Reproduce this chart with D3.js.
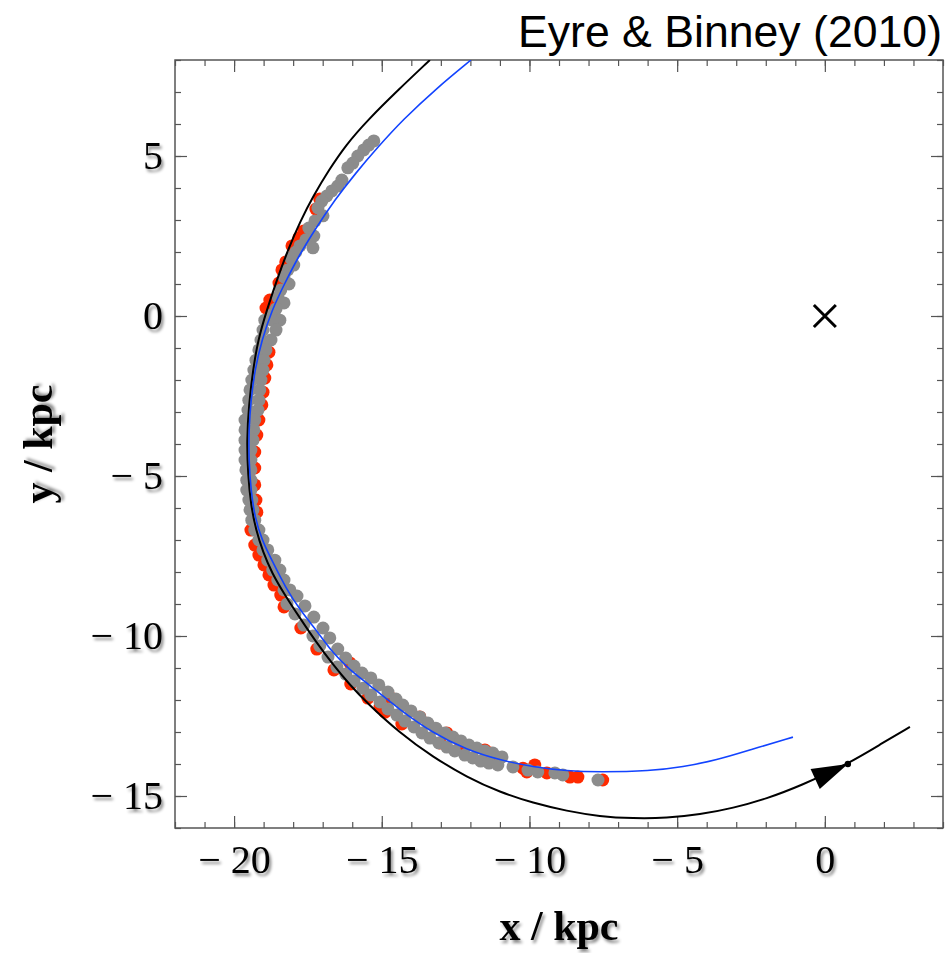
<!DOCTYPE html>
<html>
<head>
  <meta charset="utf-8">
  <title>Eyre &amp; Binney (2010)</title>
  <script src="https://d3js.org/d3.v7.min.js"></script>
  <style>
    body { margin: 0; background: #fff; }
    .tick line { stroke: #555; stroke-width: 1.2; }
    .tick text {
      font-family: "Liberation Serif", "Times New Roman", serif;
      font-size: 40px;
      fill: #000;
    }
  </style>
</head>
<body>
  <div id="chart"></div>

  <script>
    // ticks
    const xMajor = [-20, -15, -10, -5, 0];
    const yMajor = [-15, -10, -5, 0, 5];
    const xMinor = d3.range(-22, 5);
    const yMinor = d3.range(-16, 9);

    // orbit of the progenitor (black)
    const orbit = [
      [-13.37, 8.00], [-14.45, 7.06], [-15.47, 6.13], [-16.22, 5.34], [-16.79, 4.56],
      [-17.30, 3.78], [-17.77, 2.94], [-18.18, 2.06], [-18.55, 1.13], [-18.89, 0.19],
      [-19.19, -0.75], [-19.36, -1.69], [-19.50, -2.78], [-19.57, -3.88], [-19.53, -4.97],
      [-19.43, -5.91], [-19.26, -6.69], [-19.02, -7.38], [-18.72, -8.03], [-18.28, -8.72],
      [-17.77, -9.44], [-17.20, -10.22], [-16.66, -10.88], [-16.08, -11.53], [-15.50, -12.09],
      [-14.39, -13.03], [-13.27, -13.78], [-12.12, -14.41], [-11.00, -14.88], [-9.88, -15.22],
      [-8.73, -15.47], [-7.62, -15.64], [-6.50, -15.70], [-5.35, -15.69], [-4.23, -15.58],
      [-3.11, -15.38], [-1.96, -15.08], [-0.85, -14.69], [0.78, -14.00], [1.96, -13.34],
      [2.88, -12.84]
    ];

    // model track (blue)
    const track = [
      [-11.98, 8.00], [-13.13, 7.13], [-14.29, 6.13], [-15.13, 5.28], [-15.88, 4.47],
      [-16.59, 3.63], [-17.23, 2.75], [-17.81, 1.88], [-18.28, 1.03], [-18.72, 0.19],
      [-19.06, -0.75], [-19.30, -1.69], [-19.43, -2.63], [-19.50, -3.56], [-19.50, -4.50],
      [-19.43, -5.44], [-19.30, -6.28], [-19.06, -7.00], [-18.69, -7.69], [-18.25, -8.50],
      [-17.77, -9.19], [-17.16, -9.88], [-16.66, -10.53], [-16.08, -11.06], [-15.50, -11.47],
      [-14.39, -12.31], [-13.27, -13.03], [-12.12, -13.56], [-11.00, -13.88], [-9.88, -14.09],
      [-8.73, -14.22], [-7.62, -14.25], [-5.92, -14.22], [-4.81, -14.09], [-3.66, -13.88],
      [-2.54, -13.56], [-1.08, -13.16]
    ];

    // stars, red layer (drawn under the gray ones)
    const redStars = [
      [-17.10, 3.66], [-17.23, 3.34], [-17.64, 2.66], [-17.81, 2.44], [-18.04, 2.19],
      [-18.25, 1.69], [-18.38, 1.44], [-18.48, 1.03], [-18.79, 0.50], [-18.92, 0.25],
      [-18.82, -1.13], [-18.89, -1.53], [-18.96, -1.94], [-19.02, -2.38], [-19.06, -2.78],
      [-19.16, -3.25], [-19.23, -3.72], [-19.30, -4.25], [-19.30, -4.75], [-19.30, -5.28],
      [-19.26, -5.75], [-19.23, -6.13], [-19.43, -6.69], [-19.30, -7.16], [-19.16, -7.47],
      [-18.99, -7.78], [-18.82, -8.09], [-18.65, -8.41], [-18.42, -8.72], [-18.31, -9.09],
      [-17.74, -9.75], [-17.20, -10.41], [-16.62, -11.06], [-16.05, -11.50], [-15.47, -11.94],
      [-14.89, -12.38], [-14.32, -12.75], [-16.08, -10.84], [-14.73, -11.91], [-15.06, -12.22],
      [-13.71, -12.53], [-12.80, -13.03], [-13.03, -13.34], [-12.36, -13.50], [-11.51, -13.56],
      [-11.34, -13.66], [-11.10, -13.94], [-10.22, -14.13], [-9.82, -14.03], [-10.09, -14.25],
      [-9.41, -14.28], [-8.63, -14.41], [-8.36, -14.41], [-7.52, -14.50]
    ];

    // stars, gray layer
    const grayStars = [
      // upper arm, sparse clumps
      [-15.27, 5.47], [-15.44, 5.34], [-15.61, 5.19], [-15.81, 5.00], [-15.98, 4.78],
      [-16.15, 4.63], [-16.35, 4.25], [-16.49, 4.06], [-16.69, 3.91], [-16.86, 3.75],
      [-17.03, 3.59], [-17.16, 3.38], [-16.99, 3.13], [-17.26, 2.97], [-17.47, 2.75],
      [-17.30, 2.50], [-17.57, 2.38], [-17.77, 2.19], [-17.33, 2.13], [-17.91, 2.00],
      [-18.08, 1.81], [-17.98, 1.59], [-18.18, 1.44], [-18.31, 1.22], [-18.14, 1.00],
      [-18.42, 0.81], [-18.52, 0.59], [-18.31, 0.41], [-18.58, 0.22], [-18.75, 0.03],
      // left side, dense band
      [-18.96, -0.13], [-18.45, -0.13], [-18.72, -0.13],
      [-19.02, -0.44], [-18.58, -0.44], [-19.09, -0.75], [-18.75, -0.75],
      [-19.16, -1.06], [-18.92, -1.06], [-19.26, -1.38], [-18.99, -1.38],
      [-19.33, -1.69], [-19.02, -1.69], [-19.40, -2.00], [-19.09, -2.00],
      [-19.46, -2.31], [-19.13, -2.31], [-19.50, -2.63], [-19.16, -2.63],
      [-19.53, -2.94], [-19.19, -2.94], [-19.63, -3.25], [-19.30, -3.25],
      [-19.63, -3.56], [-19.33, -3.56], [-19.63, -3.88], [-19.36, -3.88],
      [-19.63, -4.19], [-19.43, -4.19], [-19.63, -4.50], [-19.43, -4.50],
      [-19.60, -4.81], [-19.43, -4.81], [-19.57, -5.13], [-19.43, -5.13],
      [-19.57, -5.44], [-19.43, -5.44], [-19.50, -5.75], [-19.40, -5.75],
      [-19.46, -6.06], [-19.36, -6.06], [-19.40, -6.38], [-19.30, -6.38],
      [-19.30, -6.69], [-19.16, -6.69], [-19.16, -7.00], [-19.02, -7.00],
      [-19.02, -7.31], [-18.86, -7.31], [-18.86, -7.63], [-18.62, -7.63],
      [-18.69, -7.94], [-18.45, -7.94], [-18.52, -8.25], [-18.31, -8.25],
      [-18.31, -8.56], [-18.11, -8.56],
      // lower arm
      [-18.21, -9.00], [-17.87, -8.75], [-17.94, -9.31], [-17.60, -9.06],
      [-17.64, -9.66], [-17.30, -9.41], [-17.33, -10.00], [-16.99, -9.75],
      [-17.10, -10.31], [-16.76, -10.06], [-16.82, -10.66], [-16.49, -10.41],
      [-16.52, -10.97], [-16.22, -10.69], [-16.22, -11.19], [-15.94, -10.94],
      [-15.94, -11.41], [-15.67, -11.16], [-15.64, -11.63], [-15.37, -11.31],
      [-15.37, -11.84], [-15.10, -11.53], [-15.06, -12.06], [-14.79, -11.75],
      [-14.79, -12.28], [-14.52, -11.97], [-14.49, -12.47], [-14.29, -12.16],
      [-14.22, -12.66], [-14.01, -12.34], [-13.91, -12.84], [-13.71, -12.53],
      [-13.64, -13.03], [-13.44, -12.72], [-13.37, -13.19], [-13.17, -12.88],
      [-13.07, -13.34], [-12.86, -13.03], [-12.80, -13.47], [-12.59, -13.16],
      [-12.53, -13.59], [-12.32, -13.28], [-12.19, -13.72], [-12.05, -13.41],
      [-11.92, -13.81], [-11.78, -13.50], [-11.65, -13.91], [-11.51, -13.59],
      [-11.37, -13.97], [-11.24, -13.66], [-11.07, -14.03], [-10.93, -13.78],
      [-10.56, -14.09], [-10.05, -14.19], [-9.72, -14.25], [-9.14, -14.28],
      [-8.87, -14.34], [-7.68, -14.50]
    ];

    const arrowIndex = 38;      // orbit point carrying the arrow head
    const centre = [0, 0];      // Galactic centre marker

    const W = 948, H = 953;
    const margin = { top: 60, left: 175 };
    const plotW = 768, plotH = 768;

    const x = d3.scaleLinear().domain([-22, 4]).range([margin.left, margin.left + plotW]);
    const y = d3.scaleLinear().domain([-16, 8]).range([margin.top + plotH, margin.top]);

    const svg = d3.select("#chart").append("svg")
      .attr("width", W)
      .attr("height", H);

    const defs = svg.append("defs");
    defs.append("clipPath").attr("id", "plot")
      .append("rect")
      .attr("x", margin.left).attr("y", margin.top)
      .attr("width", plotW).attr("height", plotH);
    defs.append("filter").attr("id", "shadow")
      .attr("x", "-20%").attr("y", "-20%").attr("width", "140%").attr("height", "140%")
      .append("feDropShadow")
      .attr("dx", 2).attr("dy", 3)
      .attr("stdDeviation", 1.6)
      .attr("flood-color", "#000")
      .attr("flood-opacity", 0.45);

    const fmt = d => d < 0 ? "\u2212 " + Math.abs(d) : String(d);

    // minor ticks, all four sides
    const bottom = margin.top + plotH, right = margin.left + plotW;
    svg.append("g").attr("transform", `translate(0,${bottom})`)
      .call(d3.axisBottom(x).tickValues(xMinor).tickSize(-6).tickFormat(""));
    svg.append("g").attr("transform", `translate(0,${margin.top})`)
      .call(d3.axisTop(x).tickValues(xMinor).tickSize(-6).tickFormat(""));
    svg.append("g").attr("transform", `translate(${margin.left},0)`)
      .call(d3.axisLeft(y).tickValues(yMinor).tickSize(-6).tickFormat(""));
    svg.append("g").attr("transform", `translate(${right},0)`)
      .call(d3.axisRight(y).tickValues(yMinor).tickSize(-6).tickFormat(""));

    // major ticks
    svg.append("g").attr("transform", `translate(0,${bottom})`)
      .call(d3.axisBottom(x).tickValues(xMajor).tickSize(-12).tickPadding(17).tickFormat(fmt));
    svg.append("g").attr("transform", `translate(0,${margin.top})`)
      .call(d3.axisTop(x).tickValues(xMajor).tickSize(-12).tickFormat(""));
    svg.append("g").attr("transform", `translate(${margin.left},0)`)
      .call(d3.axisLeft(y).tickValues(yMajor).tickSize(-12).tickPadding(12).tickFormat(fmt));
    svg.append("g").attr("transform", `translate(${right},0)`)
      .call(d3.axisRight(y).tickValues(yMajor).tickSize(-12).tickFormat(""));

    svg.selectAll(".domain").remove();
    svg.selectAll(".tick text").attr("filter", "url(#shadow)");

    // frame
    svg.append("rect")
      .attr("x", margin.left).attr("y", margin.top)
      .attr("width", plotW).attr("height", plotH)
      .attr("fill", "none")
      .attr("stroke", "#555")
      .attr("stroke-width", 1.5);

    const plot = svg.append("g").attr("clip-path", "url(#plot)");

    plot.selectAll(".red")
      .data(redStars)
      .enter()
      .append("circle")
      .attr("class", "red")
      .attr("cx", d => x(d[0]))
      .attr("cy", d => y(d[1]))
      .attr("r", 6.5)
      .attr("fill", "#ff2a00");

    plot.selectAll(".gray")
      .data(grayStars)
      .enter()
      .append("circle")
      .attr("class", "gray")
      .attr("cx", d => x(d[0]))
      .attr("cy", d => y(d[1]))
      .attr("r", 6.5)
      .attr("fill", "#8c8c8c");

    const line = d3.line()
      .x(d => x(d[0]))
      .y(d => y(d[1]))
      .curve(d3.curveBasis);

    plot.append("path")
      .datum(orbit)
      .attr("fill", "none")
      .attr("stroke", "#000")
      .attr("stroke-width", 2)
      .attr("d", line);

    plot.append("path")
      .datum(track)
      .attr("fill", "none")
      .attr("stroke", "#1243ff")
      .attr("stroke-width", 1.6)
      .attr("d", line);

    // arrow head pointing along the orbit
    const tip = orbit[arrowIndex], back = orbit[arrowIndex - 1];
    const tx = x(tip[0]), ty = y(tip[1]);
    let ux = tx - x(back[0]), uy = ty - y(back[1]);
    const len = Math.hypot(ux, uy);
    ux /= len; uy /= len;
    const bx = tx - 36 * ux, by = ty - 36 * uy;
    plot.append("path")
      .attr("d", `M${tx},${ty}L${bx - 11 * uy},${by + 11 * ux}L${bx + 11 * uy},${by - 11 * ux}Z`)
      .attr("fill", "#000");
    plot.append("circle")
      .attr("cx", tx).attr("cy", ty)
      .attr("r", 3.2)
      .attr("fill", "#000");

    // centre cross
    const cx = x(centre[0]), cy = y(centre[1]);
    plot.append("path")
      .attr("d", `M${cx - 11},${cy - 11}L${cx + 11},${cy + 11}M${cx - 11},${cy + 11}L${cx + 11},${cy - 11}`)
      .attr("stroke", "#000")
      .attr("stroke-width", 3);

    // labels
    svg.append("text")
      .attr("x", 942)
      .attr("y", 47)
      .attr("text-anchor", "end")
      .attr("textLength", 424)
      .attr("lengthAdjust", "spacingAndGlyphs")
      .style("font-family", "'Liberation Sans', Arial, sans-serif")
      .style("font-size", "44px")
      .text("Eyre & Binney (2010)");

    svg.append("text")
      .attr("x", margin.left + plotW / 2)
      .attr("y", 940)
      .attr("text-anchor", "middle")
      .attr("filter", "url(#shadow)")
      .style("font-family", "'Liberation Serif', 'Times New Roman', serif")
      .style("font-weight", "bold")
      .style("font-size", "42px")
      .text("x / kpc");

    svg.append("text")
      .attr("transform", `translate(52,${margin.top + plotH / 2}) rotate(-90)`)
      .attr("text-anchor", "middle")
      .attr("filter", "url(#shadow)")
      .style("font-family", "'Liberation Serif', 'Times New Roman', serif")
      .style("font-weight", "bold")
      .style("font-size", "42px")
      .text("y / kpc");
  </script>
</body>
</html>
